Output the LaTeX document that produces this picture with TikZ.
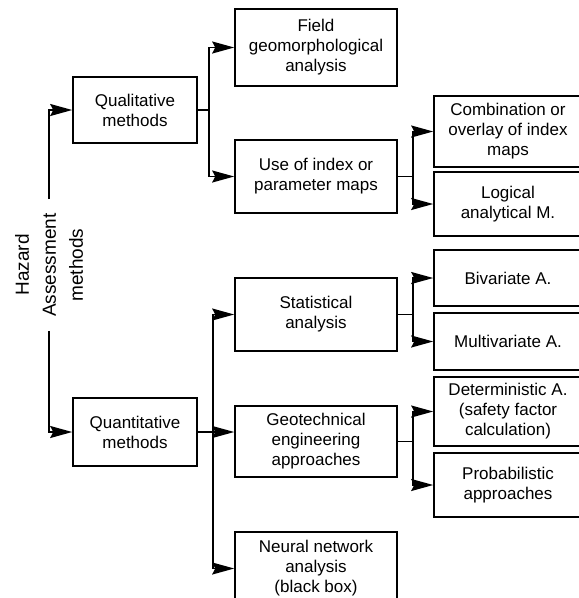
\documentclass[tikz,border=0pt]{standalone}
\usepackage{fontspec}
\setmainfont{Liberation Sans}
\usetikzlibrary{arrows.meta,positioning}

\tikzset{
  box/.style={draw,line width=1.6pt,align=center,inner sep=0pt,font=\fontsize{17}{20}\selectfont},
  midbox/.style={box,minimum width=162pt},
  leaf/.style={box,minimum width=148pt},
  arr/.style={line width=1.6pt,-{Stealth[length=22pt,width=12pt,inset=3pt]}}
}

\begin{document}
\begin{tikzpicture}[x=1pt,y=-1pt]
\useasboundingbox (0,0) rectangle (579,598);

% root and first level
\node[rotate=90,align=center,inner sep=14pt,font=\fontsize{19}{27}\selectfont] (hazard) at (49,265) {Hazard\\Assessment\\methods};
\node[box,minimum width=124pt,minimum height=66pt] (qual) at (135,110) {Qualitative\\methods};
\node[box,minimum width=124pt,minimum height=68pt] (quant) at (135,432) {Quantitative\\methods};

% second level
\foreach \nm/\y/\h/\txt in {field/47.5/77/{Field\\geomorphological\\analysis},
    useidx/176.5/73/{Use of index or\\parameter maps},
    stat/314.5/73/{Statistical\\analysis},
    geo/441.5/71/{Geotechnical\\engineering\\approaches},
    neural/568.5/73/{Neural network\\analysis\\(black box)}}
  \node[midbox,minimum height=\h pt] (\nm) at (316,\y) {\txt};

% third level
\foreach \nm/\y/\h/\txt in {comb/131.5/71/{Combination or\\overlay of index\\maps},
    logic/204/64/{Logical\\analytical M.},
    biv/278/56/{Bivariate A.},
    multi/341.5/57/{Multivariate A.},
    det/411.5/69/{Deterministic A.\\(safety factor\\calculation)},
    prob/485/64/{Probabilistic\\approaches}}
  \node[leaf,minimum height=\h pt] (\nm) at (508,\y) {\txt};

% connectors
\draw[arr] (hazard.east) |- (qual.west);
\draw[arr] (hazard.west) |- (quant.west);

\draw[arr] (qual.east) -- ++(11,0) coordinate (qj) |- (field.west);
\draw[arr] (qj) |- (useidx.west);

\draw[arr] (quant.east) -- ++(15,0) coordinate (nj) |- (stat.west);
\draw[arr] (nj) |- (neural.west);
\draw[arr] (quant.east) -- (quant.east -| geo.west);

\foreach \a/\b/\c in {useidx/comb/logic,stat/biv/multi,geo/det/prob} {
  \draw[arr] (\a.east) -- ++(15,0) coordinate (j) |- (\b.west);
  \draw[arr] (j) |- (\c.west);
}

\end{tikzpicture}
\end{document}
